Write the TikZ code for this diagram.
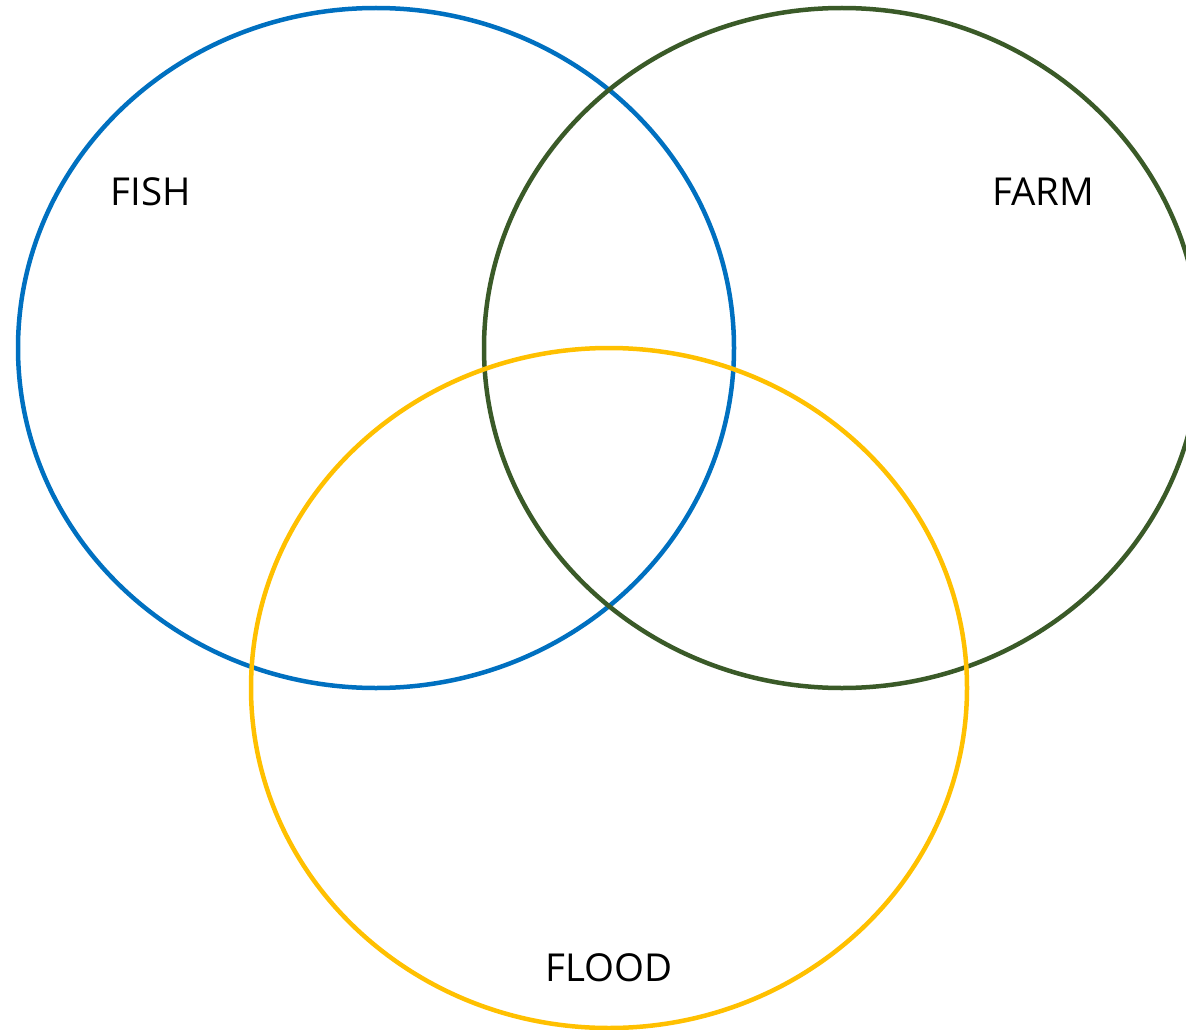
\documentclass[tikz,border=0pt]{standalone}
\usepackage{fontspec}
\setmainfont{Open Sans}
\definecolor{fishblue}{HTML}{0070C0}
\definecolor{farmgreen}{HTML}{3A5A28}
\definecolor{floodyellow}{HTML}{FFC000}
\begin{document}
\begin{tikzpicture}[x=1pt,y=-1pt,
  ring/.style={line width=4.5pt},
  lbl/.style={font=\fontsize{38.5}{44}\selectfont, text=black, inner sep=0pt}]
\useasboundingbox (0,0) rectangle (1186,1030);
\clip (0,0) rectangle (1186,1030);
\draw[ring, fishblue] (376,348) ellipse [x radius=358, y radius=340];
\draw[ring, farmgreen] (842,348) ellipse [x radius=358, y radius=340];
\draw[ring, floodyellow] (609,688) ellipse [x radius=358, y radius=340];
\node[lbl] (fish) at (151,192) {FISH};
\node[lbl] (farm) at (1043,192) {FARM};
\node[lbl] (flood) at (609,968) {FLOOD};
\end{tikzpicture}
\end{document}
